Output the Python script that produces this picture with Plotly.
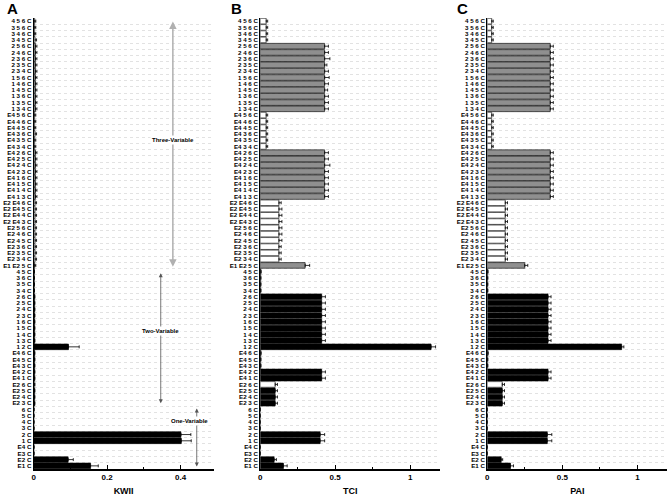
import plotly.graph_objects as go

# row labels, top to bottom
labels = [
    "4 5 6 C", "3 5 6 C", "3 4 6 C", "3 4 5 C", "2 5 6 C", "2 4 6 C", "2 3 6 C", "2 3 5 C",
    "2 3 4 C", "1 5 6 C", "1 4 6 C", "1 4 5 C", "1 3 6 C", "1 3 5 C", "1 3 4 C",
    "E4 5 6 C", "E4 4 6 C", "E4 4 5 C", "E4 3 6 C", "E4 3 5 C", "E4 3 4 C", "E4 2 6 C",
    "E4 2 5 C", "E4 2 4 C", "E4 2 3 C", "E4 1 6 C", "E4 1 5 C", "E4 1 4 C", "E4 1 3 C",
    "E2 E4 6 C", "E2 E4 5 C", "E2 E4 4 C", "E2 E4 3 C", "E2 5 6 C", "E2 4 6 C", "E2 4 5 C",
    "E2 3 6 C", "E2 3 5 C", "E2 3 4 C",
    "E1 E2 5 C",
    "4 5 C", "3 6 C", "3 5 C", "3 4 C", "2 6 C", "2 5 C", "2 4 C", "2 3 C", "1 6 C", "1 5 C",
    "1 4 C", "1 3 C", "1 2 C",
    "E4 6 C", "E4 5 C", "E4 3 C", "E4 2 C", "E4 1 C", "E2 6 C", "E2 5 C", "E2 4 C", "E2 3 C",
    "6 C", "5 C", "4 C", "3 C", "2 C", "1 C", "E4 C", "E3 C", "E2 C", "E1 C",
]

# W = white, G = gray, K = black
fills = (["W"] * 4 + ["G"] * 11 + ["W"] * 6 + ["G"] * 8 + ["W"] * 10 + ["G"]
         + ["K"] * 13 + ["K"] * 5 + ["W"] + ["K"] * 3 + ["K"] * 10)

kwii = [
    0.003, 0.003, 0.003, 0.004, 0.005, 0.005, 0.005, 0.005, 0.005, 0.005, 0.005, 0.005, 0.005, 0.005, 0.005,
    0.003, 0.003, 0.003, 0.004, 0.003, 0.003, 0.005, 0.005, 0.005, 0.005, 0.005, 0.005, 0.005, 0.005,
    0.004, 0.004, 0.004, 0.004, 0.004, 0.004, 0.004, 0.004, 0.004, 0.004,
    0.003,
    0.002, 0.002, 0.002, 0.002, 0.003, 0.003, 0.003, 0.003, 0.003, 0.003, 0.003, 0.003, 0.095,
    0.003, 0.003, 0.003, 0.003, 0.003, 0.003, 0.003, 0.003, 0.003,
    0.001, 0.001, 0.001, 0.001, 0.401, 0.402, 0.001, 0.001, 0.094, 0.155,
]
kwii_err = [
    0.003, 0.003, 0.003, 0.004, 0.004, 0.004, 0.004, 0.004, 0.004, 0.004, 0.004, 0.004, 0.004, 0.004, 0.004,
    0.003, 0.003, 0.003, 0.004, 0.003, 0.003, 0.004, 0.004, 0.004, 0.004, 0.004, 0.004, 0.004, 0.004,
    0.004, 0.004, 0.004, 0.004, 0.004, 0.004, 0.004, 0.004, 0.004, 0.004,
    0.003,
    0, 0, 0, 0, 0, 0, 0, 0, 0, 0, 0, 0, 0.029,
    0, 0, 0, 0, 0, 0, 0, 0, 0,
    0, 0, 0, 0, 0.027, 0.027, 0, 0, 0.014, 0.021,
]

tci = [
    0.04, 0.04, 0.04, 0.04, 0.43, 0.43, 0.43, 0.43, 0.43, 0.43, 0.43, 0.43, 0.43, 0.43, 0.43,
    0.04, 0.04, 0.04, 0.04, 0.04, 0.04, 0.43, 0.43, 0.43, 0.43, 0.43, 0.43, 0.43, 0.43,
    0.125, 0.125, 0.125, 0.125, 0.125, 0.125, 0.125, 0.125, 0.125, 0.125,
    0.30,
    0.005, 0.004, 0.004, 0.004, 0.41, 0.41, 0.41, 0.41, 0.41, 0.41, 0.41, 0.41, 1.14,
    0.005, 0.004, 0.004, 0.41, 0.41, 0.10, 0.10, 0.10, 0.10,
    0, 0, 0, 0, 0.40, 0.40, 0, 0, 0.093, 0.155,
]
tci_err = [
    0.01, 0.01, 0.01, 0.01, 0.025, 0.025, 0.035, 0.015, 0.025, 0.03, 0.025, 0.02, 0.025, 0.025, 0.025,
    0.01, 0.01, 0.01, 0.01, 0.01, 0.01, 0.025, 0.025, 0.035, 0.025, 0.025, 0.025, 0.025, 0.025,
    0.015, 0.02, 0.02, 0.02, 0.02, 0.02, 0.02, 0.015, 0.015, 0.015,
    0.03,
    0, 0, 0, 0, 0.025, 0.025, 0.025, 0.025, 0.025, 0.025, 0.025, 0.025, 0.03,
    0, 0, 0, 0.025, 0.025, 0.015, 0.015, 0.015, 0.015,
    0, 0, 0, 0, 0.03, 0.03, 0, 0, 0.015, 0.025,
]

pai = [
    0.03, 0.03, 0.03, 0.03, 0.42, 0.42, 0.42, 0.42, 0.42, 0.42, 0.42, 0.42, 0.42, 0.42, 0.42,
    0.03, 0.03, 0.03, 0.03, 0.03, 0.03, 0.42, 0.42, 0.42, 0.42, 0.42, 0.42, 0.42, 0.42,
    0.12, 0.12, 0.12, 0.12, 0.12, 0.12, 0.12, 0.12, 0.12, 0.12,
    0.25,
    0.004, 0.003, 0.003, 0.003, 0.405, 0.405, 0.405, 0.405, 0.405, 0.405, 0.405, 0.405, 0.895,
    0.005, 0.003, 0.003, 0.405, 0.405, 0.10, 0.10, 0.10, 0.10,
    0, 0, 0, 0, 0.40, 0.40, 0, 0, 0.093, 0.155,
]
pai_err = [
    0.01, 0.01, 0.01, 0.01, 0.02, 0.02, 0.02, 0.02, 0.02, 0.02, 0.02, 0.02, 0.02, 0.02, 0.02,
    0.01, 0.01, 0.01, 0.01, 0.01, 0.01, 0.02, 0.02, 0.02, 0.02, 0.02, 0.02, 0.02, 0.02,
    0.015, 0.015, 0.015, 0.015, 0.015, 0.015, 0.015, 0.015, 0.015, 0.015,
    0.02,
    0, 0, 0, 0, 0.02, 0.02, 0.02, 0.02, 0.02, 0.02, 0.02, 0.02, 0.015,
    0, 0, 0, 0.02, 0.02, 0.015, 0.015, 0.015, 0.015,
    0, 0, 0, 0, 0.03, 0.03, 0, 0, 0.01, 0.02,
]

palette = {"W": "#ffffff", "G": "#8f8f8f", "K": "#000000"}
colors = [palette[f] for f in fills]
rows = list(range(len(labels)))

font = "Liberation Sans, Arial, sans-serif"
panels = [
    ("A", "KWII", kwii, kwii_err, [0, 0.49], 0.2, 0.1, [0.0474, 0.3173]),
    ("B", "TCI", tci, tci_err, [0, 1.2], 0.5, 0.25, [0.3871, 0.6568]),
    ("C", "PAI", pai, pai_err, [0, 1.2], 0.5, 0.25, [0.7275, 0.9976]),
]

fig = go.Figure()
for i, (letter, name, vals, errs, xr, major, minor, dom) in enumerate(panels):
    n = "" if i == 0 else str(i + 1)
    fig.add_trace(go.Bar(
        x=vals, y=rows, orientation="h",
        marker=dict(color=colors, line=dict(color="#000000", width=0.6)),
        error_x=dict(type="data", array=errs, arrayminus=[0] * len(errs), symmetric=False,
                     color="#000000", thickness=0.8, width=1.5),
        xaxis="x" + n, yaxis="y" + n, showlegend=False,
    ))
    fig.layout["xaxis" + n] = dict(
        domain=dom, range=xr, anchor="y" + n, dtick=major, tick0=0,
        showline=True, linecolor="#000000", linewidth=1.5, showgrid=False, zeroline=False,
        ticks="inside", ticklen=4, tickcolor="#000000",
        minor=dict(dtick=minor, tick0=0, ticks="inside", ticklen=2, tickcolor="#000000"),
        tickfont=dict(family=font, size=8, color="#000000", weight="bold"),
        title=dict(text=name, font=dict(family=font, size=9, color="#000000", weight="bold"),
                   standoff=6),
    )
    fig.layout["yaxis" + n] = dict(
        domain=[0, 1], range=[len(labels) - 0.5, -0.5], anchor="x" + n,
        tickmode="array", tickvals=rows, ticktext=labels, ticks="",
        showline=True, linecolor="#000000", linewidth=1, showgrid=False, zeroline=False,
        tickfont=dict(family=font, size=6.2, color="#000000", weight="bold"),
        minor=dict(tickmode="linear", tick0=0.5, dtick=1, showgrid=True,
                   gridcolor="#e2e2e2", griddash="dot", gridwidth=0.5),
    )
    fig.add_annotation(text=letter, xref="paper", yref="paper", x=[0.004, 0.341, 0.679][i],
                       y=1.022, xanchor="left", yanchor="middle", showarrow=False,
                       font=dict(family=font, size=15, color="#000000", weight="bold"))

# group brackets in panel A
groups = [
    ("Three-Variable", 0.379, -0.2, 39.2, 0.379, 19.0, "#b0b0b0", 1.5),
    ("Two-Variable", 0.346, 40.0, 61.0, 0.346, 49.4, "#555555", 0.8),
    ("One-Variable", 0.444, 61.6, 71.1, 0.424, 63.9, "#555555", 0.8),
]
for text, gx, y0, y1, tx, ty, col, w in groups:
    fig.add_annotation(x=gx, y=y1, ax=gx, ay=y0, xref="x", yref="y", axref="x", ayref="y",
                       text="", showarrow=True, arrowside="end+start", arrowhead=2,
                       arrowsize=1, arrowwidth=w, arrowcolor=col)
    fig.add_annotation(x=tx, y=ty, xref="x", yref="y", text=text, showarrow=False,
                       bgcolor="#ffffff", borderpad=1,
                       font=dict(family=font, size=6, color="#000000", weight="bold"))

fig.update_layout(
    width=669, height=499, bargap=0.1,
    margin=dict(l=0, r=0, t=18, b=30),
    plot_bgcolor="#ffffff", paper_bgcolor="#ffffff",
)
# the page's default body margin would push the chart 8px off
fig.write_html("out.html", config={"displayModeBar": False},
               post_script="document.body.style.margin = '0';")
